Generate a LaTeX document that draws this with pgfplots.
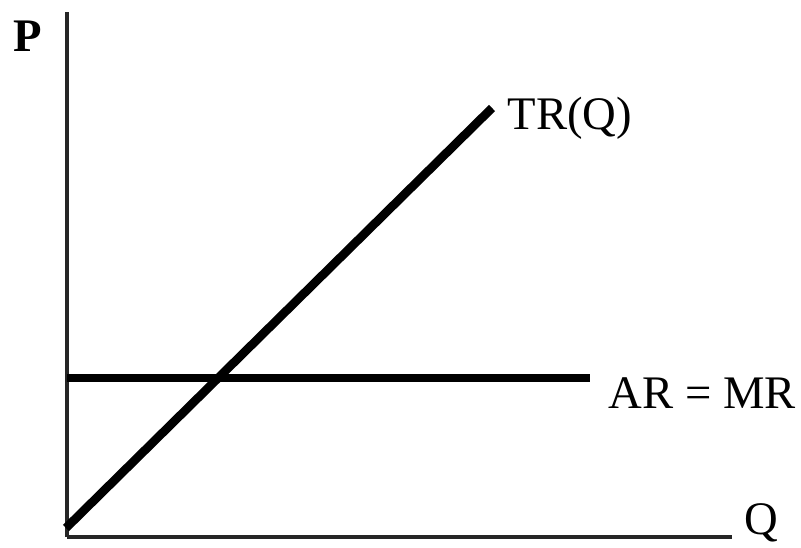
\documentclass[border=0pt]{standalone}
\usepackage{fontspec}
\setmainfont{Liberation Serif}
\usepackage{pgfplots}
\pgfplotsset{compat=1.18}
\tikzset{lbl/.style={font=\fontsize{14}{16}\selectfont,inner sep=0pt}}
\begin{document}
\begin{tikzpicture}
\begin{axis}[
  scale only axis,
  width=199.5pt,height=157.5pt,
  xmin=67,xmax=732,ymin=10,ymax=535,
  axis lines*=left,
  axis line style={line width=1.2pt,black!85},
  xtick=\empty,ytick=\empty,
  clip=false]
\path (axis cs:0,0) rectangle (axis cs:801,547);
% total revenue
\addplot[black,line width=2.6pt,mark=none] coordinates {(66,19) (492,439)};
% average = marginal revenue
\addplot[black,line width=2.4pt,mark=none] coordinates {(67,169) (590,169)};
\node[lbl] at (axis cs:28,511) {\bfseries P};
\node[lbl,anchor=west] at (axis cs:507,429) {TR(Q)};
\node[lbl,anchor=west] at (axis cs:608,154) {AR = MR};
\node[lbl] at (axis cs:761,24) {Q};
\end{axis}
\end{tikzpicture}
\end{document}
